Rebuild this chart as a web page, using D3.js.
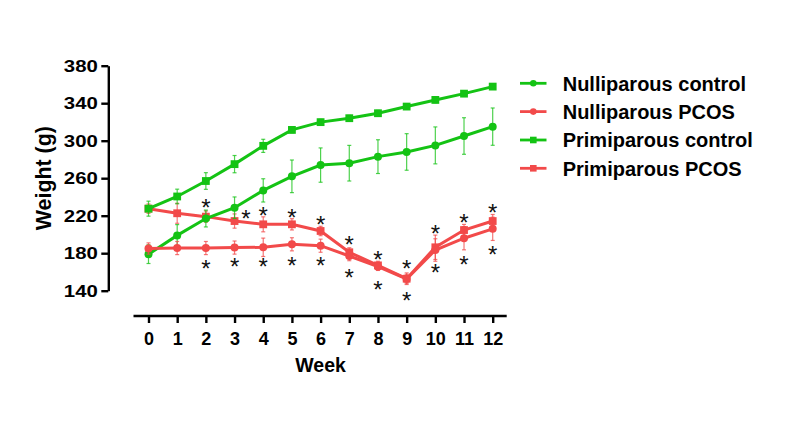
<!DOCTYPE html>
<html>
<head>
<meta charset="utf-8">
<script src="https://cdn.jsdelivr.net/npm/d3@7"></script>
<style>
  body { margin: 0; background: #fff; }
  text { font-family: "Liberation Sans", Arial, sans-serif; font-weight: bold; }
</style>
</head>
<body>
<svg id="chart" width="786" height="425"></svg>
<script>
// weeks on the x axis
const weeks = [0, 1, 2, 3, 4, 5, 6, 7, 8, 9, 10, 11, 12]
const yTicks = [140, 180, 220, 260, 300, 340, 380]

// mean body weight (g) per group
const nulliControl = [179, 199, 217, 228.5, 247, 262, 274, 276, 283, 288, 295, 305, 315]
const nulliControlErr = [10, 11.5, 9, 11.5, 12.4, 17.4, 18.3, 19, 18, 19.5, 19.7, 19.5, 19.9]
const nulliPcos = [185, 185.5, 185.5, 186, 186.3, 189.5, 188, 177, 165.6, 152.5, 183.4, 196, 206]
const nulliPcosErr = [6, 7, 7, 7, 9.8, 7, 7, 5, 4, 5, 12, 12.4, 12.4]
const primiControl = [227.5, 240.5, 257, 275, 294.5, 311.5, 319.8, 324, 329.3, 336.4, 343.5, 350.2, 357.7]
const primiControlErr = [8, 7.8, 8.9, 9.2, 7, 3, 3, 3, 3, 3, 3, 3, 3]
const primiPcos = [227.5, 222.6, 219, 214.3, 210.8, 210.8, 203.7, 181, 167, 152.8, 186.3, 204.7, 214.3]
const primiPcosErr = [5, 10.7, 6, 7.6, 8, 6, 5, 4.8, 4.4, 6.2, 13, 6, 7]

// significance asterisks (week position, weight level)
const starUpperWeeks = [2, 3.4, 4, 5, 6, 7, 8, 9, 10, 11, 12]
const starUpperVals = [233.9, 222.6, 225.3, 223.2, 216.2, 194.1, 178.1, 168.5, 206.6, 217.9, 228.5]
const starLowerWeeks = [2, 3, 4, 5, 6, 7, 8, 9, 10, 11, 12]
const starLowerVals = [169.2, 170.9, 170.9, 172.7, 172.7, 159.2, 146.8, 135.4, 164.5, 173.5, 184.2]

const green = '#14c314'
const red = '#f24a4a'

const series = [
  { name: 'Primiparous PCOS', values: primiPcos, err: primiPcosErr, color: red, shape: 'square' },
  { name: 'Nulliparous control', values: nulliControl, err: nulliControlErr, color: green, shape: 'circle' },
  { name: 'Nulliparous PCOS', values: nulliPcos, err: nulliPcosErr, color: red, shape: 'circle' },
  { name: 'Primiparous control', values: primiControl, err: primiControlErr, color: green, shape: 'square' }
]
const legendOrder = ['Nulliparous control', 'Nulliparous PCOS', 'Primiparous control', 'Primiparous PCOS']

const svg = d3.select('#chart')

// SCALES
const x = d3.scaleLinear().domain([0, 12]).range([148.5, 492.7])
const y = d3.scaleLinear().domain([140, 380]).range([290.7, 65.7])

// Y AXIS (detached, Prism style)
const yAxis = svg.append('g')
  .attr('transform', 'translate(108.3,0)')
  .call(d3.axisLeft(y).tickValues(yTicks).tickSize(7).tickSizeOuter(0).tickPadding(3.5))
yAxis.select('.domain').attr('stroke', '#000').attr('stroke-width', 2.4)
yAxis.selectAll('.tick line').attr('stroke', '#000').attr('stroke-width', 2.4)
yAxis.selectAll('.tick text')
  .attr('fill', '#000')
  .style('font-size', '17px')
  .attr('textLength', 34)
  .attr('lengthAdjust', 'spacingAndGlyphs')

// X AXIS
const xAxis = svg.append('g')
  .attr('transform', 'translate(0,316)')
  .call(d3.axisBottom(x).tickValues(weeks).tickSize(7).tickSizeOuter(0).tickPadding(9))
xAxis.select('.domain').remove()
xAxis.append('line')
  .attr('x1', x.range()[0] - 15).attr('x2', x.range()[1] + 14)
  .attr('stroke', '#000').attr('stroke-width', 2.4)
xAxis.selectAll('.tick line').attr('stroke', '#000').attr('stroke-width', 2.4)
xAxis.selectAll('.tick text').attr('fill', '#000').style('font-size', '18px')

// AXIS TITLES
svg.append('text')
  .attr('x', (x.range()[0] + x.range()[1]) / 2)
  .attr('y', 371.5)
  .attr('text-anchor', 'middle')
  .style('font-size', '19.5px')
  .text('Week')

svg.append('text')
  .attr('transform', `translate(50.5,${(y.range()[0] + y.range()[1]) / 2}) rotate(-90)`)
  .attr('text-anchor', 'middle')
  .style('font-size', '22px')
  .attr('textLength', 104)
  .attr('lengthAdjust', 'spacingAndGlyphs')
  .text('Weight (g)')

// SERIES
const line = d3.line().x((d, i) => x(weeks[i])).y(d => y(d))

function drawMarker(g, shape, color, cx, cy, size) {
  if (shape === 'circle') {
    g.append('circle').attr('cx', cx).attr('cy', cy).attr('r', size / 2).attr('fill', color)
  } else {
    g.append('rect')
      .attr('x', cx - size / 2).attr('y', cy - size / 2)
      .attr('width', size).attr('height', size)
      .attr('fill', color)
  }
}

series.forEach(s => {
  const g = svg.append('g')
  // error bars
  s.values.forEach((v, i) => {
    const cx = x(weeks[i])
    const top = y(v + s.err[i])
    const bot = y(v - s.err[i])
    g.append('line').attr('x1', cx).attr('x2', cx).attr('y1', top).attr('y2', bot)
      .attr('stroke', s.color).attr('stroke-width', 1.2).attr('opacity', 0.75)
    g.append('line').attr('x1', cx - 2).attr('x2', cx + 2).attr('y1', top).attr('y2', top)
      .attr('stroke', s.color).attr('stroke-width', 1.2).attr('opacity', 0.75)
    g.append('line').attr('x1', cx - 2).attr('x2', cx + 2).attr('y1', bot).attr('y2', bot)
      .attr('stroke', s.color).attr('stroke-width', 1.2).attr('opacity', 0.75)
  })
  g.append('path')
    .attr('d', line(s.values))
    .attr('fill', 'none')
    .attr('stroke', s.color)
    .attr('stroke-width', 3)
  s.values.forEach((v, i) => {
    drawMarker(g, s.shape, s.color, x(weeks[i]), y(v), s.shape === 'circle' ? 8 : 7.8)
  })
})

// ASTERISKS
function drawStars(ws, vs) {
  svg.append('g').selectAll('text')
    .data(ws)
    .join('text')
    .attr('x', d => x(d))
    .attr('y', (d, i) => y(vs[i]) + 13.5)
    .attr('text-anchor', 'middle')
    .style('font-size', '24px')
    .style('font-weight', 'normal')
    .attr('fill', '#111')
    .text('*')
}
drawStars(starUpperWeeks, starUpperVals)
drawStars(starLowerWeeks, starLowerVals)

// LEGEND
const legendRows = [83.3, 111.6, 140, 168.3]
legendOrder.forEach((name, i) => {
  const s = series.find(d => d.name === name)
  const g = svg.append('g').attr('transform', `translate(0,${legendRows[i]})`)
  g.append('line').attr('x1', 520).attr('x2', 546.5).attr('y1', 0).attr('y2', 0)
    .attr('stroke', s.color).attr('stroke-width', 2.8)
  drawMarker(g, s.shape, s.color, 533.3, 0, 6.6)
  g.append('text')
    .attr('x', 562.7)
    .attr('y', 7.2)
    .style('font-size', '20px')
    .text(name)
})
</script>
</body>
</html>
